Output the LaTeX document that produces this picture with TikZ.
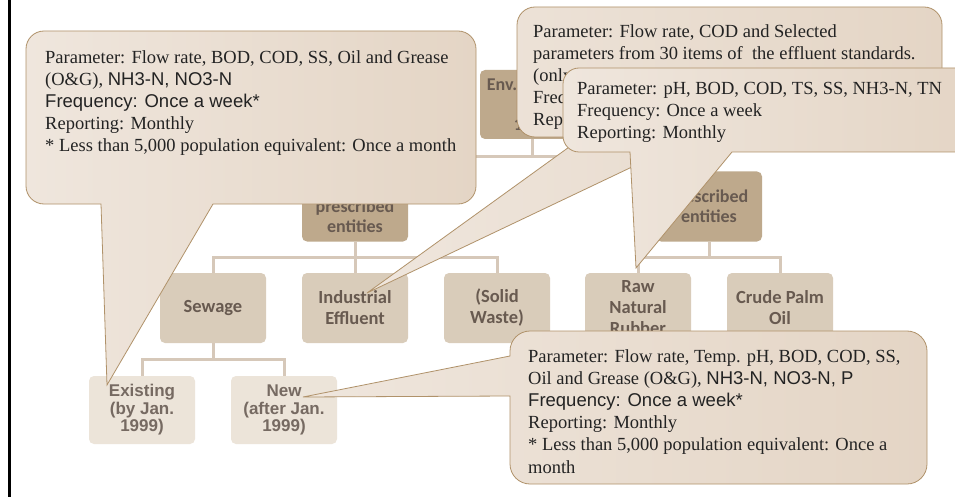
\documentclass[tikz,border=0pt]{standalone}
\usepackage{fontspec}
\setmainfont{Liberation Serif}
\newfontfamily\arialf{Liberation Sans}
\newfontfamily\calib{Carlito}
\definecolor{boxdark}{RGB}{190,169,140}
\definecolor{boxmid}{RGB}{217,204,186}
\definecolor{boxlight}{RGB}{236,228,217}
\definecolor{treetext}{RGB}{104,90,80}
\definecolor{lvfourtext}{RGB}{118,106,98}
\definecolor{linec}{RGB}{214,200,185}
\definecolor{cleft}{RGB}{239,230,221}
\definecolor{cright}{RGB}{228,213,197}
\definecolor{cborder}{RGB}{176,146,106}
\definecolor{ctxt}{RGB}{35,35,35}
\begin{document}
\begin{tikzpicture}[x=1pt,y=1pt,
  treebox/.style={rounded corners=5pt, inner sep=0pt, align=center, minimum width=106pt},
  lvtwo/.style={treebox, fill=boxdark, minimum height=70pt, text=treetext, font=\calib\bfseries\fontsize{18}{20}\selectfont},
  lvthree/.style={treebox, fill=boxmid, minimum height=70pt, text=treetext, font=\calib\bfseries\fontsize{18.5}{21}\selectfont},
  lvfour/.style={treebox, fill=boxlight, minimum height=68pt, text=lvfourtext, font=\arialf\bfseries\fontsize{17}{17.5}\selectfont},
  conn/.style={draw=linec, line width=3pt},
  callout/.style={draw=cborder, line width=0.8pt, left color=cleft, right color=cright},
  ctext/.style={inner sep=0pt, align=left, anchor=north west, text=ctxt, font=\fontsize{18.5}{22.2}\selectfont}
]
\useasboundingbox (0,0) rectangle (955,-497);
\clip (0,0) rectangle (955,-497);
\fill[white] (0,0) rectangle (955,-497);
% page edge line
\draw[black, line width=2.4pt] (9.5,0) -- (9.5,-497);

% tree nodes
\node[lvtwo, minimum width=104pt, minimum height=69pt] (env) at (532,-104.5) {Env. Quality\\Act\\1974};
\node[lvtwo] (nonpres) at (355,-206.5) {Non-\\prescribed\\entities};
\node[lvtwo] (pres) at (709,-206.5) {Prescribed\\entities};
\node[lvthree] (sewage) at (213,-308) {Sewage};
\node[lvthree] (indeff) at (355,-308) {Industrial\\Effluent};
\node[lvthree] (solid) at (497,-308) {(Solid\\Waste)};
\node[lvthree] (rubber) at (638,-308) {Raw\\Natural\\Rubber};
\node[lvthree] (palm) at (780,-308) {Crude Palm\\Oil};
\node[lvfour] (exist) at (142,-410) {Existing\\(by Jan.\\1999)};
\node[lvfour] (new) at (284,-410) {New\\(after Jan.\\1999)};

% connectors
\draw[conn] (env.south) -- ++(0,-17) -| (nonpres.north);
\draw[conn] (env.south) -- ++(0,-17) -| (pres.north);
\draw[conn] (nonpres.south) -- ++(0,-15.5) -| (sewage.north);
\draw[conn] (nonpres.south) -- ++(0,-15.5) -| (indeff.north);
\draw[conn] (nonpres.south) -- ++(0,-15.5) -| (solid.north);
\draw[conn] (pres.south) -- ++(0,-15.5) -| (rubber.north);
\draw[conn] (pres.south) -- ++(0,-15.5) -| (palm.north);
\draw[conn] (sewage.south) -- ++(0,-16) -| (exist.north);
\draw[conn] (sewage.south) -- ++(0,-16) -| (new.north);

% callout 1 (sewage existing)
\coordinate (tipone) at (107,-385);
\draw[callout] (101,-204) -- (tipone) -- (213,-204) -- (458,-204)
  arc[start angle=270,end angle=360,radius=18pt] -- (476,-49)
  arc[start angle=0,end angle=90,radius=18pt] -- (44,-31)
  arc[start angle=90,end angle=180,radius=18pt] -- (26,-186)
  arc[start angle=180,end angle=270,radius=18pt] -- cycle;
\node[ctext] (tone) at (45,-50) {Parameter: Flow rate, BOD, COD, SS, Oil and Grease\\(O\&G), {\arialf NH3-N, NO3-N}\\{\arialf Frequency: Once a week*}\\Reporting: Monthly\\* Less than 5,000 population equivalent: Once a month};

% callout 2 (industrial effluent)
\coordinate (tiptwo) at (367,-293);
\draw[callout] (583,-137) -- (tiptwo) -- (695,-137) -- (924,-137)
  arc[start angle=270,end angle=360,radius=18pt] -- (942,-25)
  arc[start angle=0,end angle=90,radius=18pt] -- (535,-7)
  arc[start angle=90,end angle=180,radius=18pt] -- (517,-119)
  arc[start angle=180,end angle=270,radius=18pt] -- cycle;
\node[ctext] (ttwo) at (533,-24) {Parameter: Flow rate, COD and Selected\\parameters from 30 items of\ \ the effluent standards.\\(only applicable items)\\Frequency: Once a month\\Reporting: Monthly};

% callout 3 (raw natural rubber)
\coordinate (tipthree) at (636,-268);
\draw[callout] (630,-152) -- (tipthree) -- (732,-152) -- (959,-152)
  arc[start angle=270,end angle=360,radius=16pt] -- (975,-84)
  arc[start angle=0,end angle=90,radius=16pt] -- (579,-68)
  arc[start angle=90,end angle=180,radius=16pt] -- (563,-136)
  arc[start angle=180,end angle=270,radius=16pt] -- cycle;
\node[ctext] (tthree) at (577,-82) {Parameter: pH, BOD, COD, TS, SS, NH3-N, TN\\Frequency: Once a week\\Reporting: Monthly};

% callout 4 (sewage new)
\coordinate (tipfour) at (303,-397);
\draw[callout] (510,-396) -- (tipfour) -- (510,-356) -- (510,-351)
  arc[start angle=180,end angle=90,radius=20pt] -- (907,-331)
  arc[start angle=90,end angle=0,radius=20pt] -- (927,-464)
  arc[start angle=0,end angle=-90,radius=20pt] -- (530,-484)
  arc[start angle=-90,end angle=-180,radius=20pt] -- cycle;
\node[ctext] (tfour) at (528,-349) {Parameter: Flow rate, Temp. pH, BOD, COD, SS,\\Oil and Grease (O\&G), {\arialf NH3-N, NO3-N, P}\\{\arialf Frequency: Once a week*}\\Reporting: Monthly\\* Less than 5,000 population equivalent: Once a\\month};
\end{tikzpicture}
\end{document}
